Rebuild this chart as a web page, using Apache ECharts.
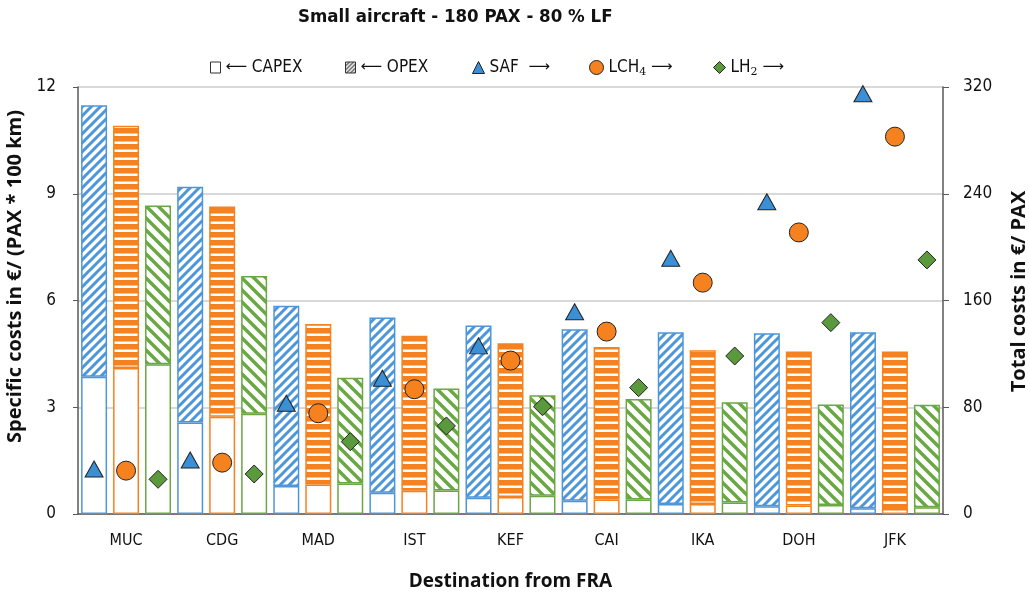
<!DOCTYPE html>
<html>
<head>
<meta charset="utf-8">
<script src="https://cdn.jsdelivr.net/npm/echarts@6/dist/echarts.min.js"></script>
<style>
html,body{margin:0;padding:0;background:#fff;}
#chart{width:1029px;height:596px;}
</style>
</head>
<body>
<div id="chart"></div>
<script>
const categories = ['MUC','CDG','MAD','IST','KEF','CAI','IKA','DOH','JFK'];
// left axis: specific costs in €/(PAX*100km)
const safCapex  = [3.86, 2.57, 0.79, 0.60, 0.46, 0.37, 0.28, 0.22, 0.16];
const safOpex   = [7.63, 6.63, 5.06, 4.92, 4.84, 4.82, 4.83, 4.86, 4.95];
const lch4Capex = [4.10, 2.73, 0.83, 0.65, 0.48, 0.41, 0.28, 0.24, 0.14];
const lch4Opex  = [6.81, 5.91, 4.51, 4.36, 4.32, 4.28, 4.32, 4.33, 4.43];
const lh2Capex  = [4.21, 2.82, 0.86, 0.66, 0.51, 0.41, 0.32, 0.25, 0.19];
const lh2Opex   = [4.46, 3.87, 2.97, 2.87, 2.83, 2.82, 2.82, 2.83, 2.88];
// right axis: total costs in €/PAX
const safTotal  = [33.7, 40.5, 83, 101.7, 126, 151.6, 191.7, 234, 315];
const lch4Total = [32.5, 38.5, 75.5, 93.5, 115, 136.7, 173.4, 211, 282.8];
const lh2Total  = [26, 30, 54.2, 66, 80.4, 94.7, 118.4, 143.4, 190.4];
const leftTicks = [0, 3, 6, 9, 12];
const rightTicks = [0, 80, 160, 240, 320];

const BLUE = '#4D96DA', ORANGE = '#F5821F', GREEN = '#6AA844';
const NARROW = '"Liberation Sans Narrow", "DejaVu Sans Condensed", "DejaVu Sans", sans-serif';
const BOLD = '"Open Sans", "Lato", sans-serif';

function diag(color, s, lw, dir) {
  const c = document.createElement('canvas');
  c.width = s; c.height = s;
  const ctx = c.getContext('2d');
  ctx.fillStyle = '#fff'; ctx.fillRect(0,0,s,s);
  ctx.strokeStyle = color; ctx.lineWidth = lw; ctx.lineCap = 'square';
  ctx.beginPath();
  for (const k of [-s, 0, s]) {
    if (dir > 0) { ctx.moveTo(k, s); ctx.lineTo(k + s, 0); }
    else { ctx.moveTo(k, 0); ctx.lineTo(k + s, s); }
  }
  ctx.stroke();
  return {image: c, repeat: 'repeat'};
}
function horiz(color, s, h) {
  const c = document.createElement('canvas');
  c.width = 4; c.height = s;
  const ctx = c.getContext('2d');
  ctx.fillStyle = '#fff'; ctx.fillRect(0,0,4,s);
  ctx.fillStyle = color; ctx.fillRect(0,0,4,h);
  return {image: c, repeat: 'repeat'};
}
const bluePat = diag(BLUE, 9, 3, 1);
const greenPat = diag(GREEN, 12, 3.5, -1);
const orangePat = horiz(ORANGE, 8, 5.5);
const grayPat = diag('#555', 4, 1.3, 1);

const BW = 26;
function capex(name, data, color) {
  return {name: 'CAPEX', type: 'bar', stack: name, data, barWidth: BW, barGap: '23%',
    itemStyle: {color: '#fff', borderColor: color, borderWidth: 1.5}};
}
function opex(name, data, color, pat) {
  return {name: 'OPEX', type: 'bar', stack: name, data, barWidth: BW, barGap: '23%',
    itemStyle: {color: pat, borderColor: color, borderWidth: 1.5}};
}
function marker(name, data, symbol, size, color, off) {
  return {name, type: 'scatter', yAxisIndex: 1, data, symbol, symbolSize: size,
    symbolOffset: [off, 0], z: 5,
    itemStyle: {color, borderColor: '#222', borderWidth: 1, opacity: 1}};
}

const legTxt = {fontFamily: NARROW, fontSize: 17, color: '#111',
  rich: {t: {fontFamily: NARROW, fontSize: 17, color: '#111'},
         s: {fontFamily: '"DejaVu Serif", serif', fontSize: 11, color: '#111', padding: [9,0,0,0]},
         a: {fontFamily: '"DejaVu Sans", sans-serif', fontSize: 15, color: '#111'}}};
function leg(left, item, fmt, w, h) {
  return {left, top: 54, itemWidth: w, itemHeight: h, selectedMode: false,
    data: [item], textStyle: legTxt, formatter: () => fmt};
}

const chart = echarts.init(document.getElementById('chart'));
chart.setOption({
  animation: false,
  title: {text: 'Small aircraft - 180 PAX - 80 % LF', left: 293, top: 3,
    textStyle: {fontFamily: NARROW, fontWeight: 'bold', fontSize: 18.5, color: '#111'}},
  legend: [
    leg(205, {name: 'CAPEX', icon: 'rect', itemStyle: {color: '#fff', borderColor: '#333', borderWidth: 1}},
        '{a|⟵} {t|CAPEX}', 10, 11),
    leg(340, {name: 'OPEX', icon: 'rect', itemStyle: {color: grayPat, borderColor: '#333', borderWidth: 1}},
        '{a|⟵} {t|OPEX}', 10, 11),
    leg(467, {name: 'SAF', icon: 'triangle', itemStyle: {color: '#3B8FD4', borderColor: '#222', borderWidth: 1}},
        '{t|SAF}  {a|⟶}', 12, 12),
    leg(584, {name: 'LCH4', icon: 'circle', itemStyle: {color: ORANGE, borderColor: '#222', borderWidth: 1}},
        '{t|LCH}{s|4} {a|⟶}', 14, 14),
    leg(708, {name: 'LH2', icon: 'diamond', itemStyle: {color: '#5A9A3C', borderColor: '#222', borderWidth: 1}},
        '{t|LH}{s|2} {a|⟶}', 12, 12)
  ],
  grid: {left: 78, right: 86, top: 87, bottom: 82, containLabel: false, outerBoundsMode: 'none'},
  xAxis: {type: 'category', data: categories,
    name: 'Destination from FRA', nameLocation: 'middle', nameGap: 58,
    nameTextStyle: {fontFamily: BOLD, fontWeight: 'bold', fontSize: 19, color: '#111'},
    axisLine: {lineStyle: {color: '#595959', width: 1.5}},
    axisTick: {length: 6, lineStyle: {color: '#595959'}},
    axisLabel: {fontFamily: NARROW, fontSize: 16, color: '#111', margin: 19}},
  yAxis: [
    {type: 'value', min: leftTicks[0], max: leftTicks[leftTicks.length-1], interval: 3,
      name: 'Specific costs in €/ (PAX * 100 km)', nameLocation: 'middle', nameGap: 41, nameRotate: 90,
      nameTextStyle: {fontFamily: BOLD, fontWeight: 'bold', fontSize: 20, color: '#111', padding: [0,0,0,48]},
      axisLine: {show: true, lineStyle: {color: '#595959', width: 1.5}},
      axisTick: {show: true, length: 5, lineStyle: {color: '#595959'}},
      axisLabel: {fontFamily: NARROW, fontSize: 17, color: '#111', margin: 22},
      splitLine: {lineStyle: {color: '#D9D9D9', width: 2}}},
    {type: 'value', min: rightTicks[0], max: rightTicks[rightTicks.length-1], interval: 80,
      name: 'Total costs in €/ PAX', nameLocation: 'middle', nameGap: 66, nameRotate: 90,
      nameTextStyle: {fontFamily: BOLD, fontWeight: 'bold', fontSize: 20, color: '#111', padding: [0,0,0,18]},
      axisLine: {show: true, lineStyle: {color: '#595959', width: 1.5}},
      axisTick: {show: true, length: 6, lineStyle: {color: '#595959'}},
      axisLabel: {fontFamily: NARROW, fontSize: 17, color: '#111', margin: 20},
      splitLine: {show: false}}
  ],
  series: [
    capex('saf', safCapex, BLUE), opex('saf', safOpex, BLUE, bluePat),
    capex('lch4', lch4Capex, ORANGE), opex('lch4', lch4Opex, ORANGE, orangePat),
    capex('lh2', lh2Capex, GREEN), opex('lh2', lh2Opex, GREEN, greenPat),
    marker('SAF', safTotal, 'triangle', [18, 16], '#3B8FD4', -32),
    marker('LCH4', lch4Total, 'circle', 19, ORANGE, 0),
    marker('LH2', lh2Total, 'diamond', [18, 18], '#5A9A3C', 32)
  ]
});
</script>
</body>
</html>
